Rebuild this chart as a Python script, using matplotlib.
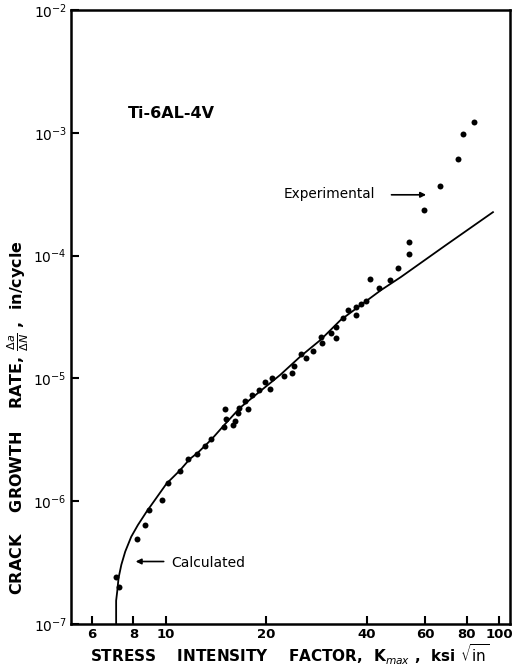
import matplotlib
matplotlib.use("Agg")
import matplotlib.pyplot as plt
from matplotlib.ticker import FixedLocator, NullLocator

# Experimental points: K_max (ksi sqrt(in)) and da/dN (in/cycle)
exp_k = [7.10, 7.23, 8.22, 8.67, 8.91, 9.77, 10.15, 11.0, 11.65, 12.4,
         13.1, 13.7, 14.9, 15.9, 16.1, 15.2, 15.05, 16.5, 16.6, 17.7,
         17.3, 18.1, 19.1, 20.5, 19.9, 20.8, 22.6, 23.9, 24.2, 25.5,
         26.4, 27.7, 29.4, 29.2, 32.4, 31.2, 32.4, 34.1, 37.3, 35.2,
         37.3, 38.6, 39.8, 43.6, 41.0, 47.1, 49.7, 53.7, 53.7, 59.6,
         66.5, 75.1, 77.8, 83.7]
exp_rate = [2.40e-7, 1.99e-7, 4.89e-7, 6.43e-7, 8.49e-7, 1.03e-6, 1.41e-6, 1.75e-6, 2.19e-6, 2.42e-6,
            2.83e-6, 3.20e-6, 4.04e-6, 4.19e-6, 4.51e-6, 4.65e-6, 5.60e-6, 5.26e-6, 5.78e-6, 5.60e-6,
            6.54e-6, 7.40e-6, 8.12e-6, 8.22e-6, 9.31e-6, 1.01e-5, 1.04e-5, 1.11e-5, 1.27e-5, 1.58e-5,
            1.47e-5, 1.68e-5, 1.94e-5, 2.19e-5, 2.15e-5, 2.36e-5, 2.64e-5, 3.08e-5, 3.28e-5, 3.60e-5,
            3.83e-5, 4.07e-5, 4.26e-5, 5.46e-5, 6.40e-5, 6.37e-5, 7.93e-5, 1.03e-4, 1.30e-4, 2.34e-4,
            3.68e-4, 6.13e-4, 9.80e-4, 1.23e-3]

# Calculated curve
calc_k = [7.10, 7.10, 7.155, 7.22, 7.36, 7.56, 7.88, 8.25, 8.75, 9.27,
          10.05, 11.02, 11.81, 12.51, 13.73, 15.05, 16.71, 19.20, 22.05, 25.33,
          29.11, 33.43, 38.4, 44.1, 50.7, 69.2, 95.7]
calc_rate = [1.00e-7, 1.55e-7, 1.85e-7, 2.37e-7, 3.04e-7, 3.89e-7, 5.14e-7, 6.40e-7, 8.18e-7, 1.02e-6,
             1.39e-6, 1.78e-6, 2.21e-6, 2.50e-6, 3.20e-6, 4.24e-6, 5.78e-6, 7.88e-6, 1.07e-5, 1.51e-5,
             2.06e-5, 2.99e-5, 3.95e-5, 5.22e-5, 6.70e-5, 1.22e-4, 2.26e-4]

x_ticks = [6, 8, 10, 20, 40, 60, 80, 100]
x_tick_labels = ["6", "8", "10", "20", "40", "60", "80", "100"]
y_ticks = [1e-7, 1e-6, 1e-5, 1e-4, 1e-3, 1e-2]
y_tick_labels = [r"$10^{-7}$", r"$10^{-6}$", r"$10^{-5}$", r"$10^{-4}$", r"$10^{-3}$", r"$10^{-2}$"]

fig = plt.figure(figsize=(5.12, 6.71), dpi=100)
ax = fig.add_axes([0.1387, 0.0700, 0.857, 0.915])

ax.plot(calc_k, calc_rate, color="black", linewidth=1.3)
ax.plot(exp_k, exp_rate, "o", color="black", markersize=4.3, markeredgewidth=0)

ax.set_xscale("log")
ax.set_yscale("log")
ax.set_xlim(5.2, 107.5)
ax.set_ylim(1e-7, 1e-2)

ax.xaxis.set_major_locator(FixedLocator(x_ticks))
ax.xaxis.set_minor_locator(NullLocator())
ax.set_xticklabels(x_tick_labels)
ax.yaxis.set_major_locator(FixedLocator(y_ticks))
ax.yaxis.set_minor_locator(NullLocator())
ax.set_yticklabels(y_tick_labels)

ax.tick_params(direction="in", length=6, width=1.5, labelsize=10, pad=3)
ax.tick_params(axis="x", labelsize=9.5)
for lab in ax.get_xticklabels() + ax.get_yticklabels():
    lab.set_fontweight("bold")
for sp in ax.spines.values():
    sp.set_linewidth(1.8)

ax.text(0.13, 0.832, "Ti-6AL-4V", transform=ax.transAxes, fontsize=11.5,
        fontweight="bold", ha="left", va="center")

# labels with arrows
ax.annotate("", xy=(61.5, 3.13e-4), xytext=(46.6, 3.13e-4),
            arrowprops=dict(arrowstyle="-|>", color="black", lw=1.2, mutation_scale=8))
ax.text(22.6, 3.15e-4, "Experimental", fontsize=9.8, ha="left", va="center")

ax.annotate("", xy=(7.97, 3.23e-7), xytext=(10.05, 3.23e-7),
            arrowprops=dict(arrowstyle="-|>", color="black", lw=1.2, mutation_scale=8))
ax.text(10.4, 3.17e-7, "Calculated", fontsize=10, ha="left", va="center")

fig.text(0.566, 0.025,
         r"STRESS    INTENSITY    FACTOR,  K$_{max}$ ,  ksi $\sqrt{\mathrm{in}}$",
         fontsize=11, fontweight="bold", ha="center", va="center")
fig.text(0.036, 0.378,
         r"CRACK    GROWTH    RATE, $\frac{\Delta a}{\Delta N}$ ,  in/cycle",
         fontsize=11.5, fontweight="bold", ha="center", va="center", rotation=90)

fig.savefig("out.png", dpi=100)
